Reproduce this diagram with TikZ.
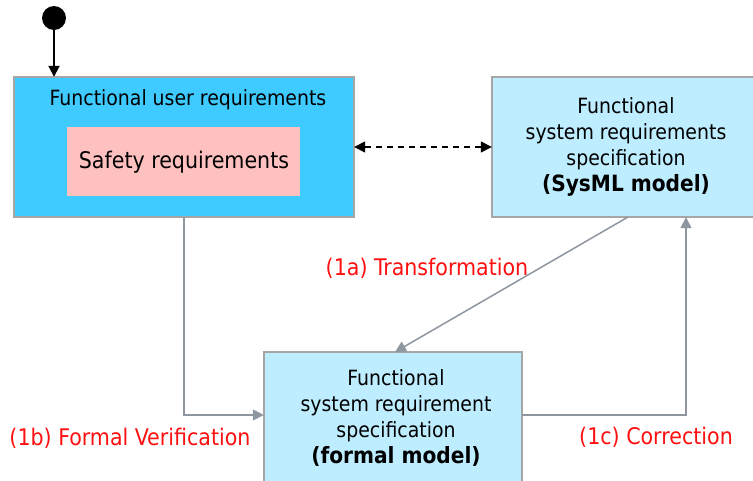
\documentclass[tikz,border=0pt]{standalone}
\usepackage{fontspec}
\setmainfont{DejaVu Sans Condensed}[BoldFont={DejaVu Sans Condensed Bold}]
\usetikzlibrary{arrows.meta}
\definecolor{boxA}{HTML}{3FCBFF}
\definecolor{boxB}{HTML}{BEEDFF}
\definecolor{safe}{HTML}{FFC0C0}
\definecolor{bord}{HTML}{A6A6A6}
\definecolor{conn}{HTML}{8E96A0}
\definecolor{lab}{HTML}{FF1010}
\tikzset{
  x=1pt,y=-1pt,
  tip/.tip={Triangle[length=11pt,width=11pt]},
  txt/.style={font=\fontsize{21}{26}\selectfont, align=center, inner sep=0pt, text=black},
  bigtxt/.style={font=\fontsize{22.9}{26}\selectfont, inner sep=0pt, text=black},
  redlab/.style={font=\fontsize{22.9}{26}\selectfont, inner sep=0pt, text=lab},
  grey/.style={draw=conn, line width=1.5pt, -tip},
  blk/.style={draw=black, line width=1.8pt},
}
\newcommand{\bm}[1]{{\fontsize{22.4}{26}\selectfont\bfseries #1}}
\begin{document}
\begin{tikzpicture}
\useasboundingbox (0,0) rectangle (753,480);
% boxes
\path[fill=boxA, draw=bord, line width=1.5pt] (14,77) rectangle (354,217);
\node[inner sep=0pt, minimum width=340pt, minimum height=140pt] (box1) at (184,147) {};
\path[fill=safe] (67,127) rectangle (300,196);
\node[inner sep=0pt, minimum width=233pt, minimum height=69pt] (safety) at (183.5,161.5) {};
\path[fill=boxB, draw=bord, line width=1.5pt] (492,77) rectangle (780,217);
\node[inner sep=0pt, minimum width=288pt, minimum height=140pt] (box2) at (636,147) {};
\path[fill=boxB, draw=bord, line width=1.5pt] (264,352) rectangle (522,500);
\node[inner sep=0pt, minimum width=258pt, minimum height=148pt] (box3) at (393,426) {};
% texts
\node[txt] (t1) at (188,100) {Functional user requirements};
\node[bigtxt] (t2) at (184,162) {Safety requirements};
\node[txt] (t3) at (626,147) {Functional\\system requirements\\specification\\\bm{(SysML model)}};
\node[txt] (t4) at (396,418) {Functional\\system requirement\\specification\\\bm{(formal model)}};
% initial node
\node[circle, fill=black, minimum size=24pt, inner sep=0pt] (init) at (54,18) {};
\draw[blk, -tip] (init.center) -- (init.center |- box1.north);
% dashed bidirectional
\draw[black, line width=1.5pt, dash pattern=on 6pt off 5pt, tip-tip] (box1.east) -- (box1.east -| box2.west);
% connectors
\coordinate (c1) at (184,415);
\coordinate (c2) at (686,415);
\draw[grey] (box1.south -| c1) -- (c1) -- (c1 -| box3.west);
\draw[grey] (c2 -| box3.east) -- (c2) -- (c2 |- box2.south);
\coordinate (s2) at (628,217);
\coordinate (e3) at (395,352);
\draw[grey] (s2) -- (e3);
% labels
\node[redlab] (l1a) at (427,268) {(1a) Transformation};
\node[redlab] (l1b) at (130,438) {(1b) Formal Verification};
\node[redlab] (l1c) at (656,437) {(1c) Correction};
\end{tikzpicture}
\end{document}
